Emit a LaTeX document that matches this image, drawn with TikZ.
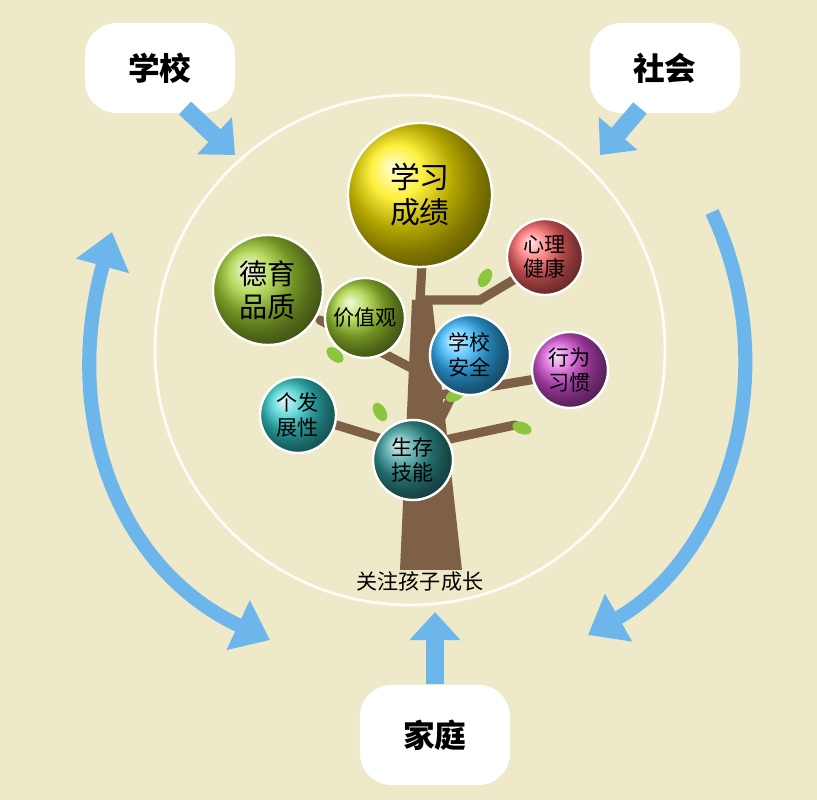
\documentclass[tikz,border=0pt]{standalone}
\usepackage{fontspec}
\setmainfont{Noto Sans CJK SC}
\usetikzlibrary{arrows.meta, positioning, calc}
\definecolor{bgc}{HTML}{EDE9C9}
\definecolor{flow}{HTML}{6DB6EC}
\definecolor{bark}{HTML}{7D6045}
\definecolor{leaf}{HTML}{8CC63F}
\tikzset{
  srcbox/.style={draw=none, fill=white, rounded corners=9pt, minimum width=1.5cm, minimum height=0.9cm, font=\bfseries\fontsize{9}{10}\selectfont},
  ball/.style={circle, draw=white, line width=0.7pt, align=center, inner sep=0pt, font=\fontsize{6}{7}\selectfont},
  flowarrow/.style={flow, line width=5pt, -{Triangle[length=8pt,width=14pt]}},
  twig/.style={bark, line width=2.6pt, line cap=round}
}
\begin{document}
\begin{tikzpicture}[x=0.01cm, y=-0.01cm]
    \fill[bgc] (0,0) rectangle (817,800);
    \useasboundingbox (0,0) rectangle (817,800);
    % Circle
    \draw[white!85!bgc, line width=0.8pt] (410,350) circle [radius=255];

    % Sources
    \node[srcbox] (school) at (160,68) {学校};
    \node[srcbox] (society) at (665,68) {社会};
    \node[srcbox, minimum height=1cm] (home) at (435,735) {家庭};
    \coordinate (inS) at (235,155);
    \coordinate (inO) at (600,155);
    \coordinate (inH) at (435,612);
    \draw[flowarrow] (185,108) -- (inS);
    \draw[flowarrow] (640,108) -- (inO);
    \draw[flowarrow] (home.north) -- (inH);

    % Cycle arrows
    \coordinate (lt) at (112,232);
    \coordinate (lb) at (270,640);
    \coordinate (rt) at (712,212);
    \coordinate (rb) at (588,635);
    \draw[flow, line width=4pt, {Triangle[length=10pt,width=15pt]}-{Triangle[length=10pt,width=15pt]}]
        (lt) .. controls (60,420) and (120,570) .. (lb);
    \draw[flow, line width=4pt, -{Triangle[length=10pt,width=15pt]}]
        (rt) .. controls (790,380) and (720,560) .. (rb);

    % Tree
    \fill[bark] (400,570) -- (412,300) -- (432,300) -- (462,570) -- cycle;
    \draw[twig] (420,300) -- (425,210);
    \draw[twig] (425,300) -- (480,300) -- (530,270);
    \draw[twig] (415,370) -- (320,320);
    \draw[twig] (440,395) -- (560,375);
    \draw[twig] (418,450) -- (320,420);
    \draw[twig] (440,420) -- (470,360);
    \draw[twig] (445,440) -- (515,425);
    \foreach \lx/\ly/\la in {485/278/60, 335/355/140, 380/412/120, 522/428/-20, 455/395/30} {
      \fill[leaf] (\lx,\ly) ellipse [x radius=10, y radius=6, rotate=\la];
    }

    % Balls
    \node[ball, ball color=yellow!85!orange, minimum size=1.44cm, font=\fontsize{8.5}{10}\selectfont] (study) at (420,195) {学习\\成绩};
    \node[ball, ball color=red!60!white, minimum size=0.76cm] (mind) at (545,257) {心理\\健康};
    \node[ball, ball color=leaf!80!yellow, minimum size=1.1cm, font=\fontsize{8}{9.5}\selectfont] (moral) at (268,290) {德育\\品质};
    \node[ball, ball color=leaf!80!yellow, minimum size=0.8cm] (value) at (365,318) {价值观};
    \node[ball, ball color=blue!35!cyan!80!white, minimum size=0.8cm] (safe) at (470,355) {学校\\安全};
    \node[ball, ball color=violet!50!magenta!70!white, minimum size=0.76cm] (habit) at (570,370) {行为\\习惯};
    \node[ball, ball color=teal!50!cyan!80!white, minimum size=0.76cm] (self) at (298,415) {个发\\展性};
    \node[ball, ball color=teal!80!white, minimum size=0.8cm] (skill) at (413,460) {生存\\技能};

    % Text
    \node[font=\fontsize{6}{7}\selectfont] (care) at (420,582) {关注孩子成长};
\end{tikzpicture}
\end{document}
